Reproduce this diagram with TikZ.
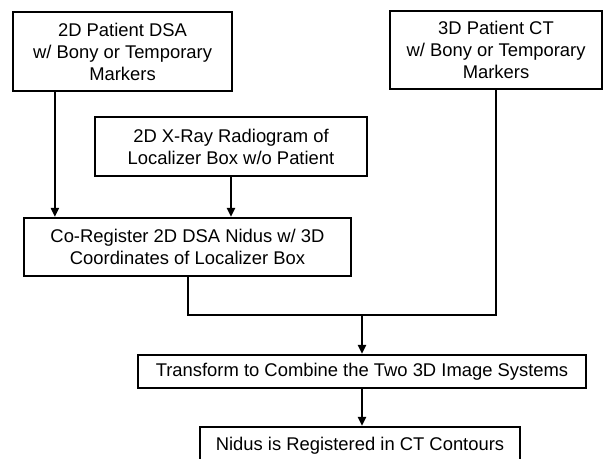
\documentclass[tikz,border=0pt]{standalone}
\usepackage{fontspec}
\setmainfont{Liberation Sans}
\usepackage{tikz}
\usetikzlibrary{arrows.meta}
\usetikzlibrary{positioning}

\tikzset{
	stage/.style={draw, line width=2.2pt, align=center, inner sep=0pt,
		font=\fontsize{18.4}{22}\selectfont},
	flow/.style={line width=2pt}
}

\begin{document}
\begin{tikzpicture}[x=1pt,y=-1pt,>={Triangle[length=9pt,width=8pt]}]
	\useasboundingbox (0,0) rectangle (604,458);
	\clip (0,0) rectangle (604,458);
	
	\node[stage, minimum width=219pt, minimum height=79pt] (dsa) at (122.5,51.5)
		{2D Patient DSA\\w/ Bony or Temporary\\Markers};
	\node[stage, minimum width=212pt, minimum height=78pt] (ct) at (496,50)
		{3D Patient CT\\w/ Bony or Temporary\\Markers};
	\node[stage, minimum width=272pt, minimum height=59pt] (xray) at (231,146.5)
		{2D X-Ray Radiogram of\\Localizer Box w/o Patient};
	\node[stage, minimum width=327pt, minimum height=58pt] (coreg) at (187.5,247)
		{Co-Register 2D DSA Nidus w/ 3D\\Coordinates of Localizer Box};
	\node[stage, minimum width=448pt, minimum height=33pt] (transform) at (362,371.5)
		{Transform to Combine the Two 3D Image Systems};
	\node[stage, minimum width=320pt, minimum height=38pt] (nidus) at (360,446)
		{Nidus is Registered in CT Contours};
	
	\coordinate (dsaout) at ([xshift=43pt]dsa.south west);
	\coordinate (join) at ([yshift=-38pt]coreg.south);
	
	\draw[flow,->] (dsaout) -- (dsaout |- coreg.north);
	\draw[flow,->] (xray.south) -- (xray.south |- coreg.north);
	
	\draw[flow] (coreg.south) -- (join) -| (ct.south);
	\draw[flow,->] (transform.north |- join) -- (transform.north);
	\draw[flow,->] (transform.south) -- (transform.south |- nidus.north);
\end{tikzpicture}
\end{document}
